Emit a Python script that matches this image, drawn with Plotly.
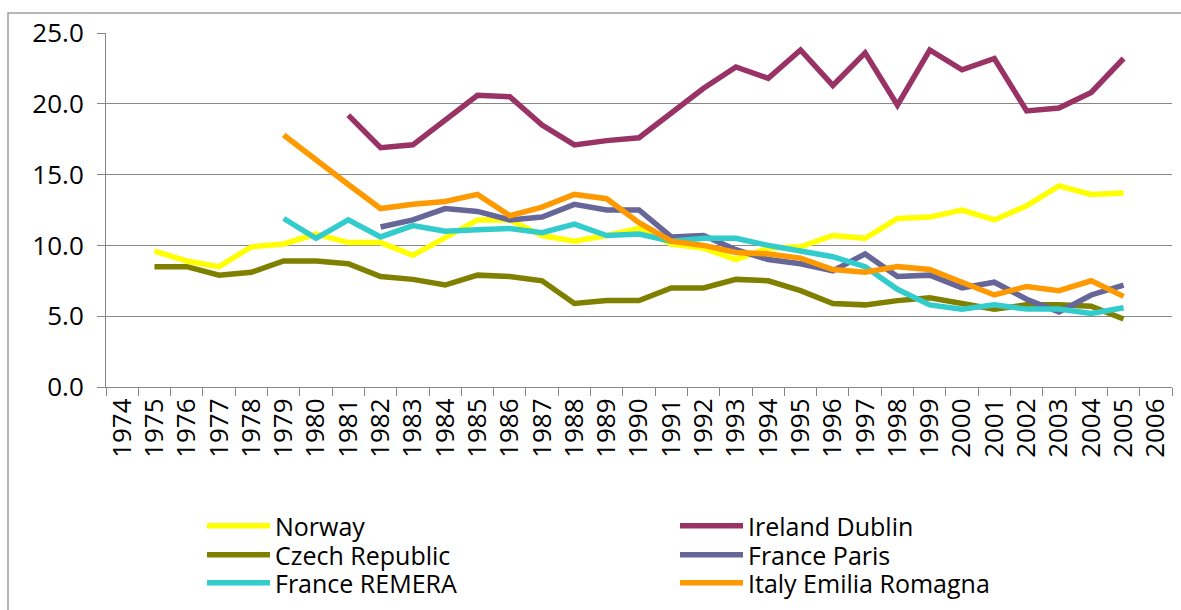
import plotly.graph_objects as go

years = [str(y) for y in range(1974, 2007)]

norway_years = list(range(1975, 2006))
norway = [9.6, 8.9, 8.5, 9.9, 10.1, 10.8, 10.2, 10.2, 9.3, 10.6, 11.8, 11.8, 10.7, 10.3, 10.7,
          11.2, 10.1, 9.8, 9.0, 9.8, 9.9, 10.7, 10.5, 11.9, 12.0, 12.5, 11.8, 12.8, 14.2, 13.6, 13.7]

ireland_years = list(range(1981, 2006))
ireland = [19.2, 16.9, 17.1, 18.9, 20.6, 20.5, 18.5, 17.1, 17.4, 17.6, 19.4, 21.1, 22.6, 21.8,
           23.8, 21.3, 23.6, 19.9, 23.8, 22.4, 23.2, 19.5, 19.7, 20.8, 23.2]

czech_years = list(range(1975, 2006))
czech = [8.5, 8.5, 7.9, 8.1, 8.9, 8.9, 8.7, 7.8, 7.6, 7.2, 7.9, 7.8, 7.5, 5.9, 6.1, 6.1, 7.0,
         7.0, 7.6, 7.5, 6.8, 5.9, 5.8, 6.1, 6.3, 5.9, 5.5, 5.8, 5.8, 5.7, 4.8]

paris_years = list(range(1982, 2006))
paris = [11.3, 11.8, 12.6, 12.4, 11.8, 12.0, 12.9, 12.5, 12.5, 10.6, 10.7, 9.7, 9.0, 8.7, 8.2,
         9.4, 7.8, 7.9, 7.0, 7.4, 6.2, 5.3, 6.5, 7.2]

remera_years = list(range(1979, 2006))
remera = [11.9, 10.5, 11.8, 10.6, 11.4, 11.0, 11.1, 11.2, 10.9, 11.5, 10.7, 10.8, 10.3, 10.5,
          10.5, 10.0, 9.6, 9.2, 8.5, 6.9, 5.8, 5.5, 5.8, 5.5, 5.5, 5.2, 5.6]

italy_years = list(range(1979, 2006))
italy = [17.8, 16.0, 14.3, 12.6, 12.9, 13.1, 13.6, 12.1, 12.7, 13.6, 13.3, 11.6, 10.3, 10.0,
         9.5, 9.4, 9.1, 8.3, 8.1, 8.5, 8.3, 7.4, 6.5, 7.1, 6.8, 7.5, 6.4]

y_ticks = [0, 5, 10, 15, 20, 25]

# (name, years, values, colour, legend row)
series = [
    ("Norway", norway_years, norway, "#FFFF00", "legend"),
    ("Ireland Dublin", ireland_years, ireland, "#993366", "legend"),
    ("Czech Republic", czech_years, czech, "#808000", "legend2"),
    ("France Paris", paris_years, paris, "#666699", "legend2"),
    ("France REMERA", remera_years, remera, "#33CCCC", "legend3"),
    ("Italy Emilia Romagna", italy_years, italy, "#FF9900", "legend3"),
]

FONT = "Open Sans"
fig = go.Figure()
for name, yrs, vals, color, lg in series:
    fig.add_trace(go.Scatter(
        x=[str(y) for y in yrs], y=vals, name=name, mode="lines",
        line=dict(color=color, width=5.5), legend=lg,
    ))

W, H = 1181, 610
L, R, T, B = 106, 9, 33, 223
pw, ph = W - L - R, H - T - B

def px_x(p):
    return (p - L) / pw

def px_y(p):
    return (H - B - p) / ph

def legend_row(yc):
    return dict(
        orientation="h", x=px_x(202), y=px_y(yc), xanchor="left", yanchor="middle",
        entrywidth=395, entrywidthmode="pixels", itemwidth=63,
        font=dict(size=25, family=FONT, color="black"), bgcolor="rgba(0,0,0,0)",
    )

fig.update_layout(
    width=W, height=H,
    margin=dict(l=L, r=R, t=T, b=B, autoexpand=False),
    paper_bgcolor="white", plot_bgcolor="white",
    font=dict(family=FONT, size=26, color="black"),
    xaxis=dict(
        type="category", categoryorder="array", categoryarray=years,
        tickvals=years, ticktext=years, range=[-0.5, len(years) - 0.5],
        tickangle=-90, tickson="boundaries", ticks="outside", ticklen=8,
        tickcolor="#888888", showline=True, linecolor="#888888", linewidth=1,
        showgrid=False, tickfont=dict(size=26, family=FONT), automargin=False,
    ),
    yaxis=dict(
        range=[0, 25], tickvals=y_ticks, ticktext=[f"{v:.1f}" for v in y_ticks],
        ticks="outside", ticklen=8, tickcolor="#888888",
        showline=True, linecolor="#888888", linewidth=1,
        showgrid=True, gridcolor="#888888", gridwidth=1,
        zeroline=False, ticklabelstandoff=8, tickfont=dict(size=26, family=FONT),
        automargin=False,
    ),
    legend=legend_row(526),
    legend2=legend_row(555),
    legend3=legend_row(583),
    showlegend=True,
    shapes=[dict(
        type="rect", xref="paper", yref="paper",
        x0=px_x(8), x1=px_x(1200), y0=px_y(640), y1=px_y(13),
        line=dict(color="#A0A0A0", width=1.5), fillcolor="rgba(0,0,0,0)", layer="below",
    )],
)

fig.write_html("out.html", config={"displayModeBar": False},
               post_script="document.body.style.margin='0px';")
